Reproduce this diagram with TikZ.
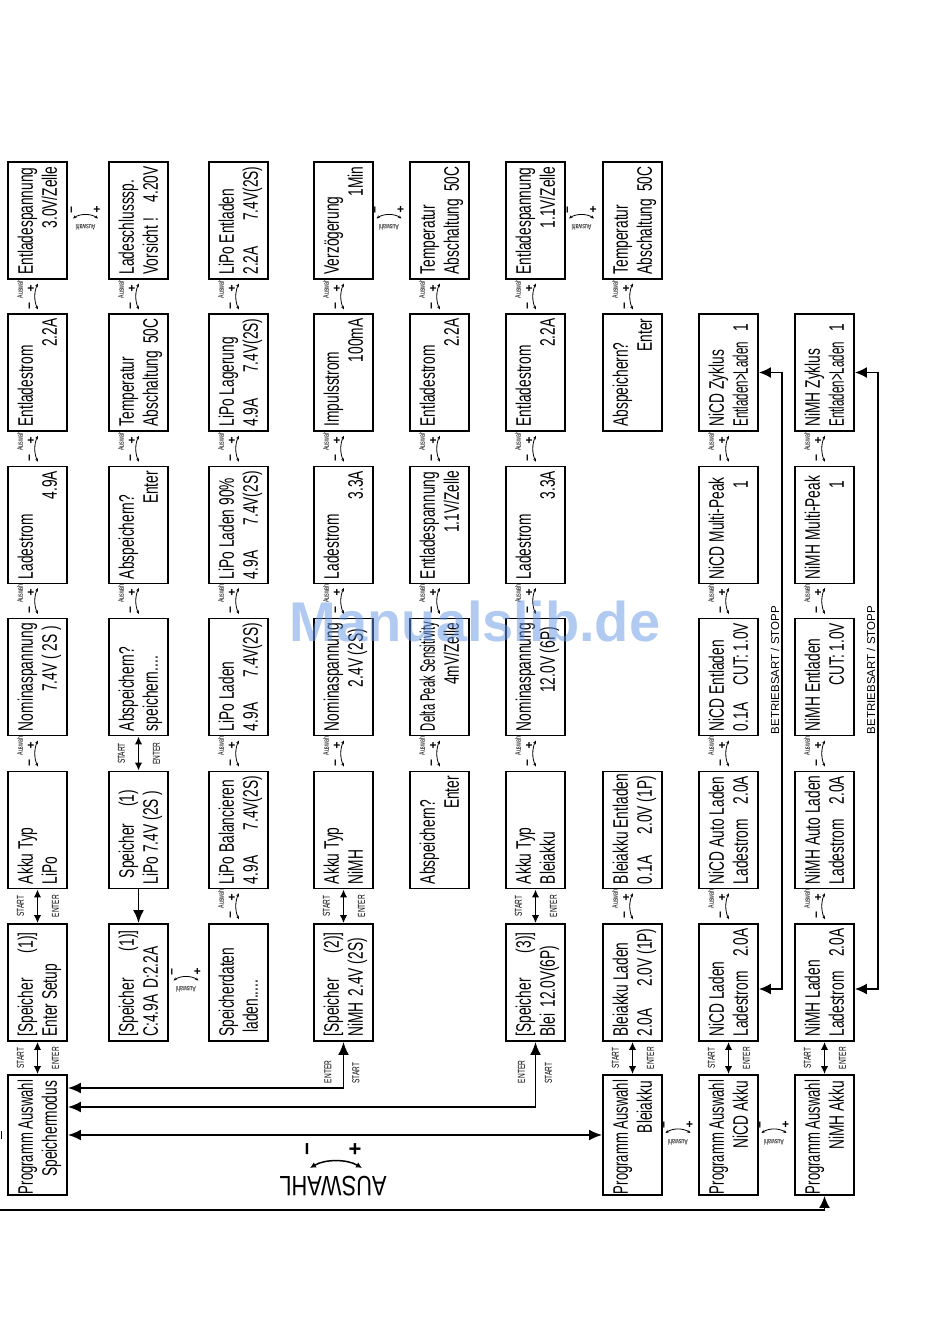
\documentclass[tikz,border=0pt]{standalone}
\usepackage{fontspec}
\usepackage{graphicx}
\usetikzlibrary{arrows.meta,calc}
\newfontfamily\dfont[FakeStretch=0.655]{Liberation Sans}
\newfontfamily\nfont{Liberation Sans}
\definecolor{wmblue}{RGB}{100,150,230}
\newcommand\tl[2]{\rotatebox{90}{\begin{tabular}{@{}l@{}}\rule{0pt}{21.8pt}\makebox[108pt][l]{#1}\\\makebox[108pt][l]{#2}\end{tabular}}}
\newcommand\dbx[4]{\node[dbox] (#1) at (#2) {\tl{#3}{#4}};}
\newcommand\dbxg[4]{\node[dboxg] (#1) at (#2) {\tl{#3}{#4}};}
\newcommand\pa{\hspace{-5pt}\scalebox{0.95}[1]{Programm Auswahl}}
\newcommand\el{\scalebox{0.84}[1]{Entladen>Laden}}
\newcommand\vaus[2]{%
  \coordinate (#1#2g) at ($(#1.south)!0.5!(#2.north)$);
  \node[alab, rotate=90] (#1#2l) at ($(#1#2g)+(-17.5,-8)$) {Auswahl};
  \node[pm] (#1#2p) at ($(#1#2g)+(-6.5,-8)$) {+};
  \node[pm, rotate=90] (#1#2m) at ($(#1#2g)+(-6.5,9)$) {−};
  \draw[arcarr] ($(#1#2g)+(0.5,-13)$) .. controls +(-4,8) and +(-4,-8) .. ($(#1#2g)+(0.5,13)$);
}
\newcommand\haus[2]{%
  \coordinate (#1#2g) at ($(#1.east)!0.5!(#2.west)$);
  \node[pm, rotate=90] (#1#2m) at ($(#1#2g)+(-15,-10.5)$) {−};
  \node[pm] (#1#2p) at ($(#1#2g)+(9,-10.5)$) {+};
  \draw[arcarr] ($(#1#2g)+(-15,-2)$) .. controls +(7,-5) and +(-7,-5) .. ($(#1#2g)+(10,-2)$);
  \node[alab, rotate=180] (#1#2l) at ($(#1#2g)+(-2.5,7)$) {Auswahl};
}
\newcommand\seda[2]{%
  \draw[sedbl] (#1.south) -- (#2.north);
  \coordinate (#1#2g) at ($(#1.south)!0.5!(#2.north)$);
  \node[slab] (#1#2s) at ($(#1#2g)+(-17,0)$) {START};
  \node[slab] (#1#2e) at ($(#1#2g)+(18,0)$) {ENTER};
}
\begin{document}
\begin{tikzpicture}[x=1pt,y=-1pt,
  dbox/.style={draw, line width=1.9pt, minimum width=59pt, minimum height=117pt, inner sep=0pt, font=\dfont\fontsize{21}{24}\selectfont},
  dboxg/.style={dbox, minimum height=120pt},
  alab/.style={font=\dfont\fontsize{8}{8}\selectfont, inner sep=0pt},
  pm/.style={font=\nfont\bfseries\fontsize{12}{12}\selectfont, inner sep=0pt},
  slab/.style={font=\dfont\fontsize{10}{10}\selectfont, inner sep=0pt, rotate=90},
  arcarr/.style={line width=0.8pt, {Stealth[length=3.5pt,width=3pt]}-{Stealth[length=3.5pt,width=3pt]}},
  sedbl/.style={line width=1.9pt, {Latex[length=8pt,width=7.5pt]}-{Latex[length=8pt,width=7.5pt]}},
  bigdbl/.style={line width=1.9pt, {Latex[length=13pt,width=11pt]}-{Latex[length=13pt,width=11pt]}},
  bigone/.style={line width=1.9pt, -{Latex[length=13pt,width=11pt]}},
  betr/.style={line width=1.5pt, {Latex[length=12pt,width=11pt]}-{Latex[length=12pt,width=11pt]}},
  betrlab/.style={rotate=90, font=\nfont\fontsize{11.5}{12}\selectfont, inner sep=0pt}]
\useasboundingbox (0,0) rectangle (950,1344);
\fill[white] (0,0) rectangle (950,1344);

% column 1
\dbx{c1A}{37.5,220.5}{Entladespannung}{\hfill 3.0V/Zelle}
\dbx{c1B}{37.5,372.5}{Entladestrom}{\hfill 2.2A}
\dbx{c1C}{37.5,525}{Ladestrom}{\hfill 4.9A}
\dbx{c1D}{37.5,677}{Nominaspannung}{\hfill 7.4V ( 2S )\hspace{3pt}}
\dbx{c1E}{37.5,830}{Akku Typ}{LiPo}
\dbx{c1F}{37.5,982.5}{[Speicher\hfill(1)]\hspace{4pt}}{Enter Setup}
\dbxg{c1G}{37.5,1135}{\pa}{\hfill Speichermodus}
% column 2
\dbx{c2A}{138.5,220.5}{Ladeschlusssp.}{Vorsicht !\hfill 4.20V}
\dbx{c2B}{138.5,372.5}{Temperatur}{Abschaltung\hfill 50C}
\dbx{c2C}{138.5,525}{Abspeichern?}{\hfill Enter}
\dbx{c2D}{138.5,677}{Abspeichern?}{speichern....}
\dbx{c2E}{138.5,830}{\hspace{6pt}Speicher\hfill(1)\hspace{14pt}}{LiPo 7.4V (2S )}
\dbx{c2F}{138.5,982.5}{[Speicher\hfill(1)]\hspace{2pt}}{C:4.9A\hspace{6pt}D:2.2A}
% column 3
\dbx{c3A}{238.5,220.5}{LiPo Entladen}{2.2A\hfill 7.4V(2S)}
\dbx{c3B}{238.5,372.5}{LiPo Lagerung}{4.9A\hfill 7.4V(2S)}
\dbx{c3C}{238.5,525}{LiPo Laden 90\%}{4.9A\hfill 7.4V(2S)}
\dbx{c3D}{238.5,677}{LiPo Laden}{4.9A\hfill 7.4V(2S)}
\dbx{c3E}{238.5,830}{LiPo Balancieren}{4.9A\hfill 7.4V(2S)}
\dbx{c3F}{238.5,982.5}{Speicherdaten}{\hspace{4pt}laden.....}
% column 4
\dbx{c4A}{343.5,220.5}{Verzögerung}{\hfill 1Min}
\dbx{c4B}{343.5,372.5}{Impulsstrom}{\hfill 100mA}
\dbx{c4C}{343.5,525}{Ladestrom}{\hfill 3.3A}
\dbx{c4D}{343.5,677}{Nominaspannung}{\hfill 2.4V (2S)\hspace{6pt}}
\dbx{c4E}{343.5,830}{Akku Typ}{NiMH}
\dbx{c4F}{343.5,982.5}{[Speicher\hfill(2)]\hspace{4pt}}{NiMH\hspace{6pt}2.4V (2S)}
% column 5
\dbx{c5A}{439.5,220.5}{Temperatur}{Abschaltung\hfill 50C}
\dbx{c5B}{439.5,372.5}{Entladestrom}{\hfill 2.2A}
\dbx{c5C}{439.5,525}{Entladespannung}{\hfill 1.1V/Zelle}
\dbx{c5D}{439.5,677}{\scalebox{0.82}[1]{Delta Peak Sensitivity}}{\hfill 4mV/Zelle}
\dbx{c5E}{439.5,830}{Abspeichern?}{\hfill Enter}
% column 6
\dbx{c6A}{535.5,220.5}{Entladespannung}{\hfill 1.1V/Zelle}
\dbx{c6B}{535.5,372.5}{Entladestrom}{\hfill 2.2A}
\dbx{c6C}{535.5,525}{Ladestrom}{\hfill 3.3A}
\dbx{c6D}{535.5,677}{Nominaspannung}{\hfill 12.0V (6P)\hspace{4pt}}
\dbx{c6E}{535.5,830}{Akku Typ}{Bleiakku}
\dbx{c6F}{535.5,982.5}{[Speicher\hfill(3)]\hspace{4pt}}{Blei\hspace{6pt}12.0V(6P)}
% column 7
\dbx{c7A}{632.5,220.5}{Temperatur}{Abschaltung\hfill 50C}
\dbx{c7B}{632.5,372.5}{Abspeichern?}{\hfill Enter}
\dbx{c7E}{632.5,830}{Bleiakku Entladen}{0.1A\hfill 2.0V (1P)}
\dbx{c7F}{632.5,982.5}{Bleiakku Laden}{2.0A\hfill 2.0V (1P)}
\dbxg{c7G}{632.5,1135}{\pa}{\hfill Bleiakku}
% column 8
\dbx{c8B}{728.5,372.5}{NiCD Zyklus}{\el\hfill 1\hspace{5pt}}
\dbx{c8C}{728.5,525}{NiCD Multi-Peak}{\hfill 1\hspace{10pt}}
\dbx{c8D}{728.5,677}{NiCD Entladen}{0.1A\hfill CUT: 1.0V}
\dbx{c8E}{728.5,830}{NiCD Auto Laden}{Ladestrom\hfill 2.0A}
\dbx{c8F}{728.5,982.5}{NiCD Laden}{Ladestrom\hfill 2.0A}
\dbxg{c8G}{728.5,1135}{\pa}{\hfill NiCD Akku}
% column 9
\dbx{c9B}{824.5,372.5}{NiMH Zyklus}{\el\hfill 1\hspace{5pt}}
\dbx{c9C}{824.5,525}{NiMH Multi-Peak}{\hfill 1\hspace{10pt}}
\dbx{c9D}{824.5,677}{NiMH Entladen}{\hfill CUT: 1.0V}
\dbx{c9E}{824.5,830}{NiMH Auto Laden}{Ladestrom\hfill 2.0A}
\dbx{c9F}{824.5,982.5}{NiMH Laden}{Ladestrom\hfill 2.0A}
\dbxg{c9G}{824.5,1135}{\pa}{\hfill NiMH Akku}

% vertical Auswahl connectors
\vaus{c1A}{c1B}\vaus{c1B}{c1C}\vaus{c1C}{c1D}\vaus{c1D}{c1E}
\vaus{c2A}{c2B}\vaus{c2B}{c2C}\vaus{c2C}{c2D}
\vaus{c3A}{c3B}\vaus{c3B}{c3C}\vaus{c3C}{c3D}\vaus{c3D}{c3E}\vaus{c3E}{c3F}
\vaus{c4A}{c4B}\vaus{c4B}{c4C}\vaus{c4C}{c4D}\vaus{c4D}{c4E}
\vaus{c5A}{c5B}\vaus{c5B}{c5C}\vaus{c5C}{c5D}\vaus{c5D}{c5E}
\vaus{c6A}{c6B}\vaus{c6B}{c6C}\vaus{c6C}{c6D}\vaus{c6D}{c6E}
\vaus{c7A}{c7B}\vaus{c7E}{c7F}
\vaus{c8B}{c8C}\vaus{c8C}{c8D}\vaus{c8D}{c8E}\vaus{c8E}{c8F}
\vaus{c9B}{c9C}\vaus{c9C}{c9D}\vaus{c9D}{c9E}\vaus{c9E}{c9F}

% horizontal Auswahl connectors
\haus{c1A}{c2A}\haus{c4A}{c5A}\haus{c6A}{c7A}
\haus{c2F}{c3F}\haus{c7G}{c8G}\haus{c8G}{c9G}

% START / ENTER
\seda{c1F}{c1G}\seda{c7F}{c7G}\seda{c8F}{c8G}\seda{c9F}{c9G}
\seda{c1E}{c1F}\seda{c4E}{c4F}\seda{c6E}{c6F}\seda{c2D}{c2E}
\draw[bigone] (c2E.south) -- (c2F.north);

% Speichermodus connections
\coordinate (j2) at (343.5,1088);
\coordinate (j3) at (535.5,1107);
\draw[bigdbl] (c4F.south) -- (j2) -- (c1G.east |- j2);
\draw[bigdbl] (c6F.south) -- (j3) -- (c1G.east |- j3);
\draw[bigdbl] (c1G.east) -- (c7G.west);
\node[slab] (j2e) at ($(c4F.south)+(-15.5,30)$) {ENTER};
\node[slab] (j2s) at ($(c4F.south)+(12.5,31)$) {START};
\node[slab] (j3e) at ($(c6F.south)+(-14,30)$) {ENTER};
\node[slab] (j3s) at ($(c6F.south)+(13,31)$) {START};

% big AUSWAHL
\node[font=\nfont\fontsize{28}{28}\selectfont, rotate=180, inner sep=0pt] (auswahl) at (333,1186) {\scalebox{0.78}[1]{AUSWAHL}};
\coordinate (aul) at (310,1168);
\coordinate (aur) at (362,1168);
\draw[line width=1.5pt, {Latex[length=6pt,width=6pt]}-{Latex[length=6pt,width=6pt]}] (aul) .. controls +(15,-9) and +(-15,-9) .. (aur);
\node[font=\nfont\bfseries\fontsize{22}{22}\selectfont, rotate=90, inner sep=0pt] (aum) at (310,1149) {−};
\node[font=\nfont\bfseries\fontsize{22}{22}\selectfont, inner sep=0pt] (aup) at (355,1150) {+};

% bottom loop
\coordinate (lpl) at (0,1210);
\coordinate (lpr) at (824.5,1210);
\draw[line width=1.6pt, -{Latex[length=12pt,width=11pt]}] (lpl) -- (lpr) -- (c9G.south);
\coordinate (tk1) at (1.2,1131);
\coordinate (tk2) at (1.2,1139);
\draw[line width=1.2pt] (tk1) -- (tk2);

% BETRIEBSART / STOPP
\coordinate (b8t) at (782,372.5);
\coordinate (b8b) at (782,989);
\draw[betr] (c8B.east) -- (b8t) -- (b8b) -- (c8F.east |- b8b);
\node[betrlab] (bs8) at (775,670) {BETRIEBSART / STOPP};
\coordinate (b9t) at (878,372.5);
\coordinate (b9b) at (878,989);
\draw[betr] (c9B.east) -- (b9t) -- (b9b) -- (c9F.east |- b9b);
\node[betrlab] (bs9) at (871,670) {BETRIEBSART / STOPP};

% watermark
\node[font=\nfont\bfseries\fontsize{56}{56}\selectfont, text=wmblue, opacity=0.5, inner sep=0pt] (wm) at (475,621) {Manualslib.de};
\end{tikzpicture}
\end{document}
